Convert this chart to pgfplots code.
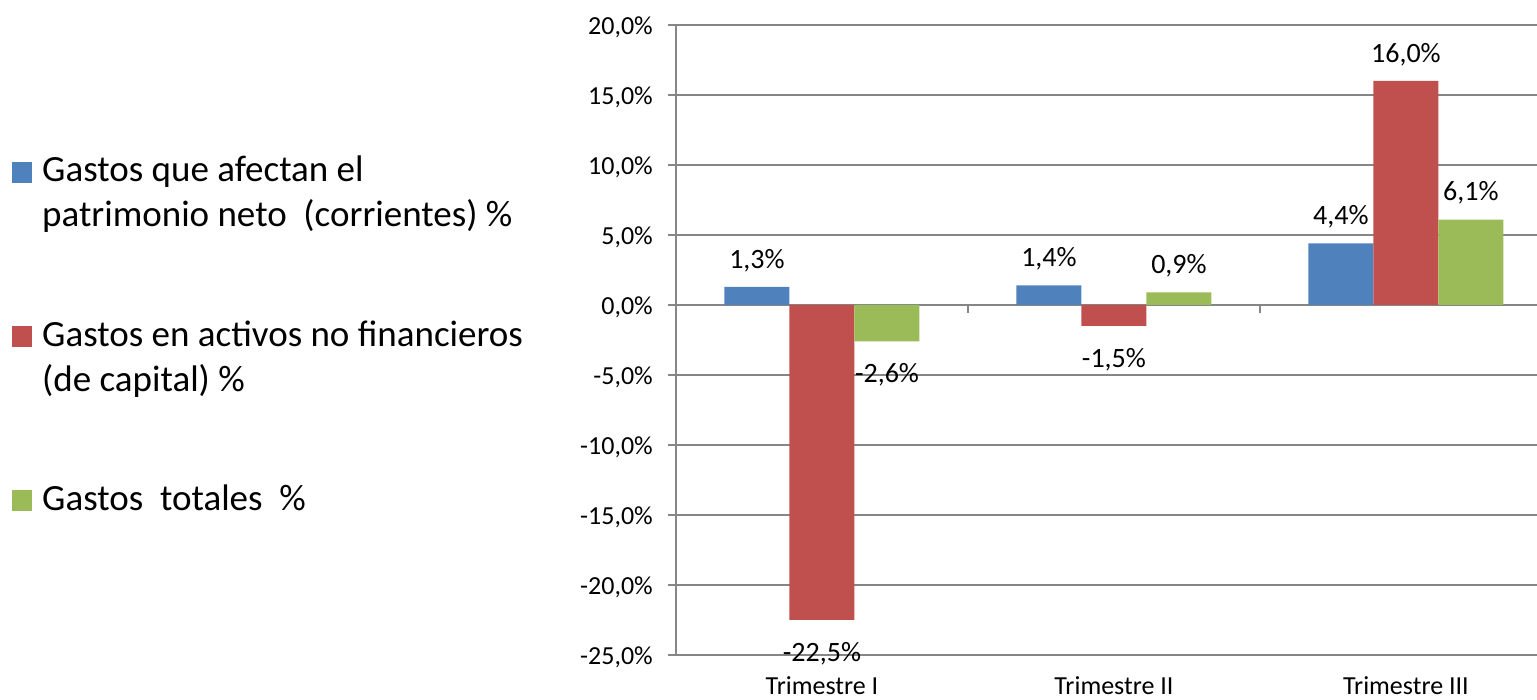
\documentclass[border=0pt]{standalone}
\usepackage{pgfplots}
\pgfplotsset{compat=1.18}
\usepackage{fontspec}
\setmainfont{Carlito}

\definecolor{gBlue}{HTML}{4F81BD}
\definecolor{gRed}{HTML}{C0504D}
\definecolor{gGreen}{HTML}{9BBB59}
\definecolor{axgray}{HTML}{868686}

\begin{document}
\begin{tikzpicture}
\begin{axis}[
    at={(676pt,45pt)}, anchor=south west,
    scale only axis,
    width=861pt, height=630pt,
    ybar=0pt, bar width=65pt,
    xmin=-0.5, xmax=2.449,
    ymin=-25, ymax=20,
    clip=false,
    axis lines*=left,
    axis line style={draw=axgray, line width=2pt},
    ymajorgrids,
    major grid style={draw=axgray, line width=2pt},
    tick align=outside,
    major tick length=8pt,
    ytick={-25,-20,...,20},
    ytick style={draw=axgray, line width=2pt},
    xtick={0,1,2},
    xticklabels={Trimestre I,Trimestre II,Trimestre III},
    xtick style={draw=none},
    /pgf/number format/.cd, fixed, fixed zerofill, precision=1, use comma, assume math mode=true,
    /pgfplots/.cd,
    yticklabel={\pgfmathprintnumber{\tick}\%},
    yticklabel style={font=\fontsize{26}{31}\selectfont, inner xsep=0pt, xshift=-15pt, yshift=-2pt},
    xticklabel style={font=\fontsize{26}{31}\selectfont, anchor=base, inner sep=0pt, yshift=-32pt},
    visualization depends on={y \as \rawy},
    nodes near coords={\pgfmathprintnumber{\pgfplotspointmeta}\%},
    nodes near coords align=vertical,
    every node near coord/.append style={font=\fontsize{28}{34}\selectfont, black,
        inner ysep=15pt, inner xsep=0pt, yshift={ifthenelse(\rawy<0,-7,0)}},
    legend cell align=left,
    legend style={at={(-0.7712,0.792)}, anchor=north west, draw=none, fill=none,
        inner sep=0pt, row sep=92pt, column sep=10pt,
        font=\fontsize{37}{45}\selectfont,
        nodes={inner sep=0pt},
        cells={align=left, anchor=base west}},
]
% two-line entries sit on their last line: lift the square to the first one
\addplot[fill=gBlue, draw=none,
    legend image code/.code={\fill[gBlue] (0pt,44pt) rectangle (20pt,65pt);}]
    coordinates {(0,1.3) (1,1.4) (2,4.4)};
\addplot[fill=gRed, draw=none,
    legend image code/.code={\fill[gRed] (0pt,44pt) rectangle (20pt,65pt);}]
    coordinates {(0,-22.5) (1,-1.5) (2,16.0)};
\addplot[fill=gGreen, draw=none,
    legend image code/.code={\fill[gGreen] (0pt,-1pt) rectangle (20pt,20pt);}]
    coordinates {(0,-2.6) (1,0.9) (2,6.1)};
\addlegendentry{Gastos que afectan el\\patrimonio neto \ (corrientes) \%}
\addlegendentry{Gastos en activos no financieros\\(de capital) \%}
\addlegendentry{Gastos \ totales \ \%}
% separators between the categories on the zero line
\draw[axgray, line width=2pt] (axis cs:0.5,0) -- ++(0pt,-8pt);
\draw[axgray, line width=2pt] (axis cs:1.5,0) -- ++(0pt,-8pt);
\end{axis}
\pgfresetboundingbox
\useasboundingbox (0,0) rectangle (1537pt,700pt);
\end{tikzpicture}
\end{document}
